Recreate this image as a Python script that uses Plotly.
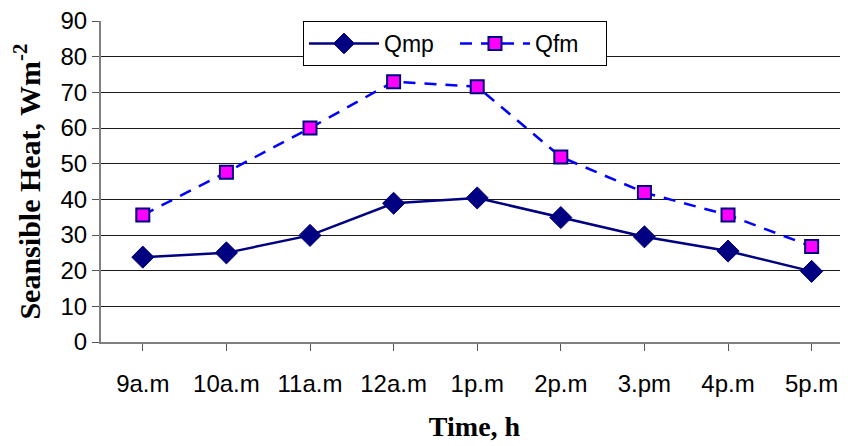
import plotly.graph_objects as go

categories = ["9a.m", "10a.m", "11a.m", "12a.m", "1p.m", "2p.m", "3.pm", "4p.m", "5p.m"]
qmp = [23.8, 25.0, 29.9, 38.9, 40.4, 34.9, 29.5, 25.5, 19.8]
qfm = [35.6, 47.6, 60.0, 73.0, 71.6, 51.9, 41.9, 35.6, 26.8]
y_ticks = [0, 10, 20, 30, 40, 50, 60, 70, 80, 90]

fig = go.Figure()
fig.add_trace(go.Scatter(
    x=list(range(len(categories))), y=qmp, name="Qmp", mode="lines+markers",
    line=dict(color="#000080", width=2.5),
    marker=dict(symbol="diamond", size=17, color="#000080", line=dict(color="#000080", width=1)),
))
fig.add_trace(go.Scatter(
    x=list(range(len(categories))), y=qfm, name="Qfm", mode="lines+markers",
    line=dict(color="#0000FF", width=2.5, dash="12px,9px"),
    marker=dict(symbol="square", size=13, color="#FF00FF", line=dict(color="#000080", width=2)),
))

fig.update_layout(
    width=848, height=446,
    margin=dict(l=93, r=8, t=13, b=112, autoexpand=False),
    paper_bgcolor="white", plot_bgcolor="white",
    font=dict(family="Liberation Sans, Arial, sans-serif", size=22, color="black"),
    legend=dict(
        orientation="h", x=0.2704, y=1.0, xanchor="left", yanchor="top",
        bgcolor="white", bordercolor="black", borderwidth=1,
        font=dict(size=23), entrywidth=66, itemwidth=70,
    ),
    showlegend=True,
)
fig.update_xaxes(
    automargin=False,
    range=[-0.5, 8.435],
    tickmode="array", tickvals=list(range(len(categories))), ticktext=categories,
    tickson="boundaries", ticks="outside", ticklen=7, tickwidth=1, tickcolor="#555",
    showline=True, linecolor="#808080", linewidth=2, showgrid=False, zeroline=False,
    ticklabelstandoff=12, ticklabeloverflow="allow",
    tickfont=dict(size=24),
    title=dict(text="<b>Time, h</b>", font=dict(family="Liberation Serif, Times New Roman, serif", size=28), standoff=21),
)
fig.update_yaxes(
    automargin=False,
    range=[0, 90.02], tickmode="array", tickvals=y_ticks,
    ticks="outside", ticklen=7, tickwidth=1, tickcolor="#555",
    showline=True, linecolor="#808080", linewidth=2,
    showgrid=True, gridcolor="#1a1a1a", gridwidth=1, zeroline=False,
    ticklabelstandoff=0, ticklabeloverflow="allow",
    tickfont=dict(size=24),
    title=dict(text="<b>Seansible Heat, Wm<sup>-2</sup></b>", font=dict(family="Liberation Serif, Times New Roman, serif", size=30), standoff=23),
)

fig.write_html("out.html")
